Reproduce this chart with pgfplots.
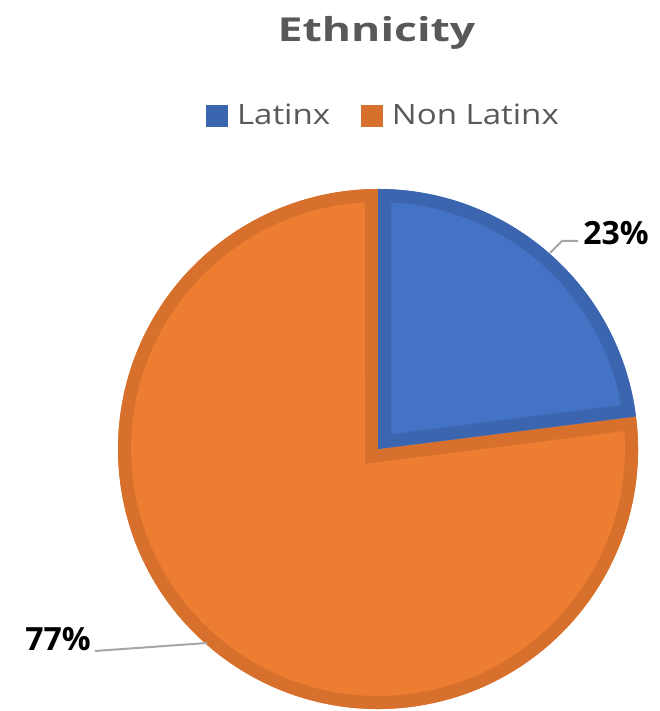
\documentclass[border=0pt]{standalone}
\usepackage{pgfplots}
\pgfplotsset{compat=1.18}
\usepackage{pgfplotstable}
\usepackage{fontspec}
\setmainfont{Open Sans}
\newfontfamily\titlefont{Open Sans}[FakeStretch=1.35]
\newfontfamily\legfont{Open Sans}[FakeStretch=1.18]
\definecolor{blueF}{HTML}{4472C4}
\definecolor{blueD}{HTML}{3C65B0}
\definecolor{orangeF}{HTML}{ED7D31}
\definecolor{orangeD}{HTML}{D6702C}
\definecolor{txtgray}{HTML}{595959}
\definecolor{leader}{HTML}{A6A6A6}
\pgfplotstableread{
label value
Latinx 23
NonLatinx 77
}\piedata
\begin{document}
\begin{tikzpicture}
\pgfplotstablegetelem{0}{value}\of\piedata \let\va\pgfplotsretval
\pgfplotstablegetelem{1}{value}\of\piedata \let\vb\pgfplotsretval
\pgfmathsetmacro\tot{\va+\vb}
\pgfmathsetmacro\aA{90-\va/\tot*360}
\pgfmathsetmacro\aB{\aA-\vb/\tot*360}
\begin{axis}[name=ax, x=0.5pt, y=0.5pt, xmin=0, xmax=659, ymin=0, ymax=711,
  hide axis, clip=false,
  legend columns=2,
  legend style={at={(0.5835,0.8368)}, anchor=center, draw=none, fill=none,
    font=\legfont\fontsize{14}{16}\selectfont, text=txtgray,
    /tikz/every even column/.append style={column sep=13.5pt}},
  legend cell align=left]
\addlegendimage{legend image code/.code={\fill[blueD] (0pt,-5.25pt) rectangle (10.5pt,5.25pt); \path (13pt,0pt);}}
\addlegendentry{Latinx}
\addlegendimage{legend image code/.code={\fill[orangeD] (0pt,-5.25pt) rectangle (10.5pt,5.25pt); \path (13pt,0pt);}}
\addlegendentry{Non Latinx}
\pgfplotsextra{
  % orange slice
  \fill[orangeF] (axis cs:378,262) -- ++(\aA:130pt) arc[start angle=\aA, end angle=\aB, radius=130pt] -- cycle;
  \begin{scope}
    \clip (axis cs:378,262) -- ++(\aA:130pt) arc[start angle=\aA, end angle=\aB, radius=130pt] -- cycle;
    \draw[orangeD, line width=13pt, line join=miter] (axis cs:378,262) -- ++(\aA:130pt) arc[start angle=\aA, end angle=\aB, radius=130pt] -- cycle;
  \end{scope}
  % blue slice
  \fill[blueF] (axis cs:378,262) -- ++(90:130pt) arc[start angle=90, end angle=\aA, radius=130pt] -- cycle;
  \begin{scope}
    \clip (axis cs:378,262) -- ++(90:130pt) arc[start angle=90, end angle=\aA, radius=130pt] -- cycle;
    \draw[blueD, line width=13pt, line join=miter] (axis cs:378,262) -- ++(90:130pt) arc[start angle=90, end angle=\aA, radius=130pt] -- cycle;
  \end{scope}
}
% leader lines
\draw[leader, line width=1pt] (axis cs:550,458) -- (axis cs:562,470) -- (axis cs:578,470);
\draw[leader, line width=1pt] (axis cs:95,60) -- (axis cs:207,68);
% data labels
\node[anchor=base west, inner sep=0pt, font=\bfseries\fontsize{16}{18}\selectfont] at (axis cs:583,466) {23\%};
\node[anchor=base west, inner sep=0pt, font=\bfseries\fontsize{16}{18}\selectfont] at (axis cs:25,60) {77\%};
% title
\node[anchor=base, inner sep=0pt, text=txtgray, font=\titlefont\bfseries\fontsize{16.5}{18}\selectfont] at (axis cs:376.5,669) {Ethnicity};
\end{axis}
\pgfresetboundingbox
\path (ax.south west) rectangle (ax.north east);
\end{tikzpicture}
\end{document}
